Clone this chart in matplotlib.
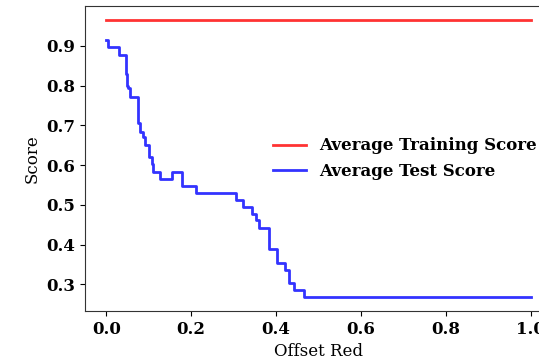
import numpy as np
import matplotlib.pyplot as plt

# offsets where each level of the test score starts (steps-post)
offset = [0.0, 0.003, 0.031, 0.047, 0.049, 0.052, 0.056, 0.074, 0.080, 0.086,
          0.092, 0.100, 0.108, 0.111, 0.127, 0.155, 0.179, 0.212, 0.306, 0.323,
          0.343, 0.353, 0.361, 0.384, 0.403, 0.420, 0.431, 0.443, 0.467, 1.0]
test_score = [0.915, 0.897, 0.877, 0.83, 0.80, 0.794, 0.772, 0.706, 0.684, 0.670,
              0.650, 0.621, 0.603, 0.582, 0.565, 0.582, 0.547, 0.529, 0.512, 0.495,
              0.478, 0.461, 0.443, 0.390, 0.354, 0.337, 0.303, 0.285, 0.268, 0.268]
train_score = 0.965

plt.rcParams['font.family'] = 'DejaVu Serif'

fig = plt.figure(figsize=(5.39, 3.62), dpi=100)
ax = fig.add_axes([0.1577, 0.1409, 0.8664, 0.8425])

ax.plot([offset[0], offset[-1]], [train_score, train_score], color='red', alpha=0.8,
        lw=2, label='Average Training Score')
ax.plot(offset, test_score, color='blue', alpha=0.8, lw=2, drawstyle='steps-post',
        label='Average Test Score')

ax.set_xlabel('Offset Red', fontsize=12)
ax.set_ylabel('Score', fontsize=12)
for t in ax.get_xticklabels() + ax.get_yticklabels():
    t.set_fontweight('bold')
    t.set_fontsize(12)
for s in ax.spines.values():
    s.set_color('#333333')

leg = ax.legend(loc='center right', frameon=False, prop={'weight': 'bold', 'size': 12})

fig.savefig('out.png', dpi=100)
